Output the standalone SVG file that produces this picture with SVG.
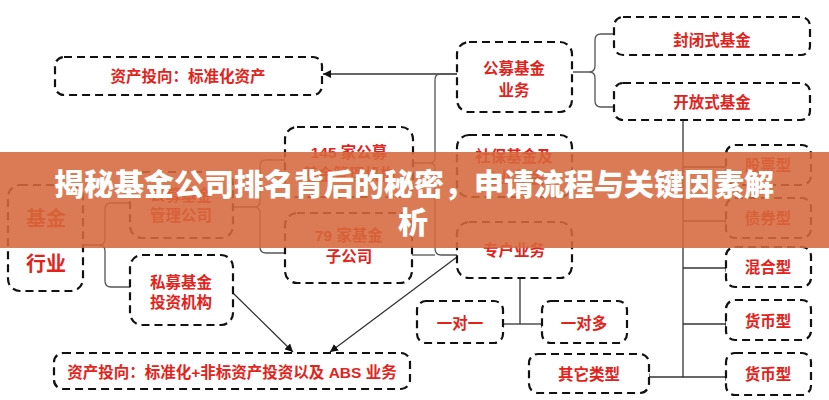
<svg xmlns="http://www.w3.org/2000/svg" width="829" height="400" viewBox="0 0 829 400">
<defs>
<style>
.box{fill:#fff;stroke:#111;stroke-width:2.2;stroke-dasharray:8 5}
.t{font-family:"Liberation Sans","Noto Sans CJK SC",sans-serif;font-weight:bold;fill:#E3231B;text-anchor:middle;dominant-baseline:central;font-size:15.5px}
.big{font-size:20px}
.c{fill:none;stroke:#333;stroke-width:1.3}
.b{fill:none;stroke:#555;stroke-width:1.3}
.ban{font-family:"Noto Sans CJK SC","Liberation Sans",sans-serif;font-weight:900;fill:#fff;text-anchor:middle;dominant-baseline:central;font-size:30px}
</style>
<marker id="ah" viewBox="0 0 10 10" refX="10" refY="5" markerWidth="8" markerHeight="8" markerUnits="userSpaceOnUse" orient="auto"><path d="M0,0 L10,5 L0,10 z" fill="#111"/></marker>
<marker id="tk" viewBox="0 0 4 10" refX="2" refY="5" markerWidth="3" markerHeight="8" markerUnits="userSpaceOnUse" orient="auto"><path d="M2,0 L2,10" stroke="#111" stroke-width="1.5"/></marker>
</defs>
<rect width="829" height="400" fill="#fff"/>

<g id="connectors">
<path class="c" d="M457,74 L323,74" marker-end="url(#ah)"/>
<path class="b" d="M457,74 L440,74 Q435,74 435,80 L435,157 Q435,163 430,163 L413,163 M430,163 Q435,163 435,169 L435,248 Q435,255 441,255 L457,255"/>
<path class="b" d="M412,255 L435,255"/>
<path class="c" d="M457,257 L330,352" marker-end="url(#ah)"/>
<path class="c" d="M233,293 L293,352" marker-end="url(#ah)"/>
<path class="b" d="M83,245 L99,245 Q105,245 105,239 L105,209 Q105,203 111,203 L130,203 M99,245 Q105,245 105,251 L105,281 Q105,287 111,287 L130,287"/>
<path class="b" d="M233,207 L254,207 Q260,207 260,201 L260,166 Q260,160 266,160 L285,160 M254,207 Q260,207 260,213 L260,247 Q260,253 266,253 L285,253"/>
<path class="b" d="M573,72 L589,72 Q595,72 595,66 L595,40 Q595,34 601,34 L614,34 M589,72 Q595,72 595,78 L595,101 Q595,107 601,107 L614,107"/>
<path class="c" d="M683,120 L683,377"/>
<path class="c" d="M683,167 L726,167" marker-end="url(#tk)"/>
<path class="c" d="M683,221 L726,221" marker-end="url(#tk)"/>
<path class="c" d="M683,268 L726,268" marker-end="url(#tk)"/>
<path class="c" d="M683,324 L726,324" marker-end="url(#tk)"/>
<path class="c" d="M683,377 L726,377" marker-end="url(#tk)"/>
<path class="c" d="M683,377 L649,377" marker-end="url(#tk)"/>
<path class="c" d="M520,278 L520,324"/>
<path class="c" d="M520,324 L503,324" marker-end="url(#tk)"/>
<path class="c" d="M520,324 L542,324" marker-end="url(#tk)"/>
</g>

<g id="n-std"><rect class="box" x="55" y="57" width="267" height="38" rx="9"/><text class="t" x="188" y="76">资产投向：标准化资产</text></g>
<g id="n-industry"><rect class="box" x="8" y="185" width="75" height="106" rx="12"/><text class="t big" x="46" y="219">基金</text><text class="t big" x="46" y="264">行业</text></g>
<g id="n-pubmgr"><rect class="box" x="130" y="172" width="103" height="66" rx="12"/><text class="t" x="181" y="195">公募基金</text><text class="t" x="181" y="215">管理公司</text></g>
<g id="n-private"><rect class="box" x="130" y="255" width="103" height="70" rx="12"/><text class="t" x="181" y="282">私募基金</text><text class="t" x="181" y="302">投资机构</text></g>
<g id="n-145"><rect class="box" x="285" y="127" width="128" height="70" rx="12"/><text class="t" x="349" y="152">145 家公募</text><text class="t" x="349" y="174">基金管理机构</text></g>
<g id="n-79"><rect class="box" x="285" y="213" width="127" height="70" rx="12"/><text class="t" x="349" y="235">79 家基金</text><text class="t" x="349" y="256">子公司</text></g>
<g id="n-abs"><rect class="box" x="54" y="353" width="356" height="36" rx="9"/><text class="t" x="232" y="372">资产投向：标准化+非标资产投资以及 ABS 业务</text></g>
<g id="n-pubbiz"><rect class="box" x="457" y="42" width="115" height="70" rx="12"/><text class="t" x="514" y="68">公募基金</text><text class="t" x="514" y="90">业务</text></g>
<g id="n-ss"><rect class="box" x="457" y="135" width="115" height="62" rx="12"/><text class="t" x="514" y="156">社保基金及</text><text class="t" x="514" y="177">企业年金</text></g>
<g id="n-sep"><rect class="box" x="457" y="222" width="115" height="56" rx="12"/><text class="t" x="514" y="250">专户业务</text></g>
<g id="n-closed"><rect class="box" x="614" y="17" width="196" height="38" rx="9"/><text class="t" x="712" y="40">封闭式基金</text></g>
<g id="n-open"><rect class="box" x="614" y="83" width="196" height="37" rx="9"/><text class="t" x="712" y="102">开放式基金</text></g>
<g id="n-stock"><rect class="box" x="726" y="145" width="85" height="40" rx="9"/><text class="t" x="768" y="165">股票型</text></g>
<g id="n-bond"><rect class="box" x="726" y="198" width="85" height="40" rx="9"/><text class="t" x="768" y="218">债券型</text></g>
<g id="n-mix"><rect class="box" x="726" y="247" width="85" height="40" rx="9"/><text class="t" x="768" y="267">混合型</text></g>
<g id="n-money1"><rect class="box" x="726" y="300" width="85" height="40" rx="9"/><text class="t" x="768" y="321">货币型</text></g>
<g id="n-money2"><rect class="box" x="726" y="353" width="85" height="42" rx="9"/><text class="t" x="768" y="374">货币型</text></g>
<g id="n-one"><rect class="box" x="417" y="301" width="86" height="42" rx="9"/><text class="t" x="460" y="323">一对一</text></g>
<g id="n-many"><rect class="box" x="542" y="301" width="85" height="42" rx="9"/><text class="t" x="584" y="323">一对多</text></g>
<g id="n-other"><rect class="box" x="529" y="354" width="120" height="39" rx="9"/><text class="t" x="589" y="374">其它类型</text></g>

<g id="banner">
<rect x="0" y="152" width="829" height="96" fill="rgb(214,105,62)" fill-opacity="0.88"/>
<text class="ban" x="414" y="182">揭秘基金公司排名背后的秘密，申请流程与关键因素解</text>
<text class="ban" x="413" y="220">析</text>
</g>
</svg>
